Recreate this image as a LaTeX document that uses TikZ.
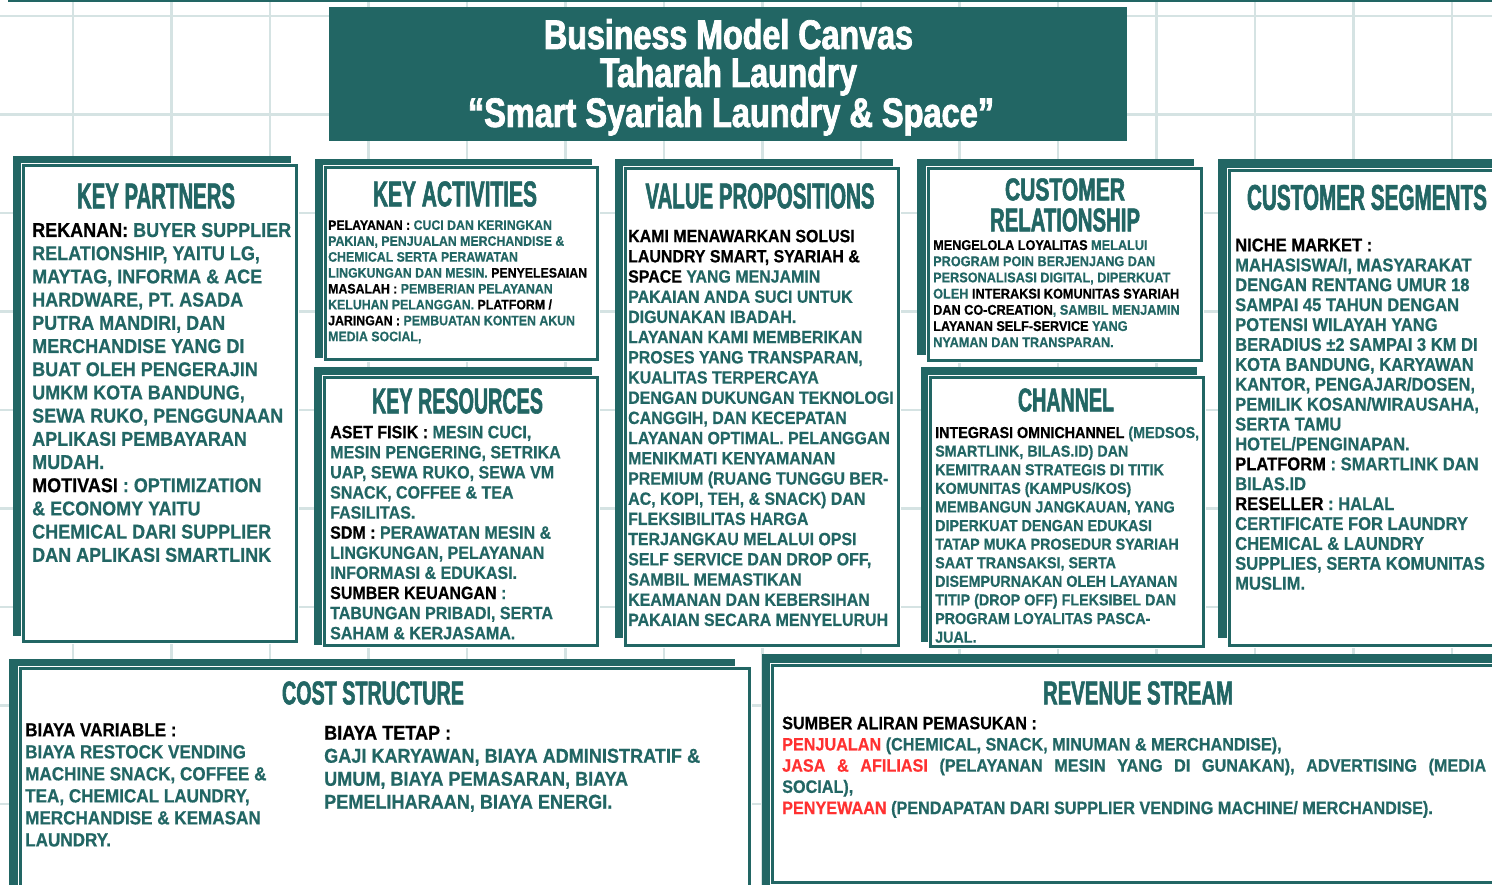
\documentclass[tikz,border=0pt]{standalone}
\usepackage{fontspec}
\usepackage{graphicx}
\newfontfamily\bodyfont{Liberation Sans}[FakeStretch=0.9, FakeBold=0.6]
\newfontfamily\headfont{Liberation Sans}[FakeStretch=0.6, FakeBold=1.6]
\definecolor{cteal}{HTML}{226664}
\definecolor{cred}{HTML}{FF3131}
\definecolor{gridc}{HTML}{D5E3E3}
\newcommand\B[1]{\textcolor{black}{#1}}
\newcommand\R[1]{\textcolor{cred}{#1}}
\newcommand\hd[3]{\resizebox{#1pt}{#2pt}{\headfont\bfseries #3}}
\newcommand\canvasbox[8]{%
  \fill[cteal] (#1,#2) rectangle (#3,#4);
  \draw[white, line width=5pt] (#5,#6) rectangle (#7,#8);
  \filldraw[fill=white, draw=cteal, line width=3pt] (#5,#6) rectangle (#7,#8);}
\tikzset{
  txt/.style={anchor=north west, inner sep=0pt, align=left, text=cteal},
  fs/.style 2 args={font={\bodyfont\bfseries\fontsize{#1}{#2}\selectfont}},
  hdnode/.style={inner sep=0pt, anchor=center, text=cteal},
  ttl/.style={inner sep=0pt, anchor=base, text=white}
}
\begin{document}
\begin{tikzpicture}[x=1pt,y=-1pt]
\useasboundingbox (0,0) rectangle (1492,885);
\fill[white] (0,0) rectangle (1492,885);
% grid
\foreach \k in {0,...,14} \draw[gridc, line width=2.6pt] ({73+98.5*\k},0) -- ({73+98.5*\k},885);
\foreach \k in {0,...,8} \draw[gridc, line width=2.6pt] (0,{16+98.5*\k}) -- (1492,{16+98.5*\k});
\fill[cteal] (8,0) rectangle (1492,2.5);
% title
\fill[cteal] (329,7) rectangle (1127,141);
\node[ttl] (t1) at (728.5,49) {\resizebox{369pt}{30pt}{\headfont\bfseries Business Model Canvas}};
\node[ttl] (t2) at (728.5,87) {\resizebox{257pt}{30pt}{\headfont\bfseries Taharah Laundry}};
\node[ttl] (t3) at (731,127) {\resizebox{526pt}{30pt}{\headfont\bfseries “Smart Syariah Laundry \& Space”}};
% boxes
\canvasbox{13}{156}{291}{636}{23.5}{165.5}{296.5}{641.5}
\canvasbox{315}{159}{592}{358}{325.5}{167.5}{597.5}{359.5}
\canvasbox{314}{367}{592}{645}{324.5}{377.5}{597.5}{645.5}
\canvasbox{615}{159}{893}{638}{625.5}{168.5}{898.5}{645.5}
\canvasbox{917}{159}{1194}{355}{928.5}{168.5}{1201.5}{360.5}
\canvasbox{921}{367}{1197}{642}{930.5}{377.5}{1203.5}{646.5}
\canvasbox{1218}{159}{1500}{638}{1229.5}{170.5}{1510}{645.5}
\canvasbox{9}{659}{735}{895}{20.5}{668.5}{749.5}{900}
\canvasbox{762}{654}{1500}{895}{772.5}{665.5}{1510}{882.5}
% headings
\node[hdnode] (hkp) at (156,196) {\hd{158}{25}{KEY PARTNERS}};
\node[hdnode] (hka) at (455,194) {\hd{164}{25}{KEY ACTIVITIES}};
\node[hdnode] (hkr) at (457.5,401) {\hd{171}{25}{KEY RESOURCES}};
\node[hdnode] (hvp) at (760,196) {\hd{229}{25}{VALUE PROPOSITIONS}};
\node[hdnode] (hcr1) at (1065,189.5) {\hd{120}{22}{CUSTOMER}};
\node[hdnode] (hcr2) at (1065,220) {\hd{150}{23}{RELATIONSHIP}};
\node[hdnode] (hch) at (1066,400) {\hd{96}{23}{CHANNEL}};
\node[hdnode] (hcs) at (1367,197.5) {\hd{240}{25}{CUSTOMER SEGMENTS}};
\node[hdnode] (hcost) at (373,693) {\hd{182}{23}{COST STRUCTURE}};
\node[hdnode] (hrev) at (1138,693) {\hd{190}{23}{REVENUE STREAM}};
% key partners
\node[txt, fs={20}{23.2}] (kptext) at (32,222.8) {%
\B{REKANAN:} BUYER SUPPLIER\\
RELATIONSHIP, YAITU LG,\\
MAYTAG, INFORMA \& ACE\\
HARDWARE, PT. ASADA\\
PUTRA MANDIRI, DAN\\
MERCHANDISE YANG DI\\
BUAT OLEH PENGERAJIN\\
UMKM KOTA BANDUNG,\\
SEWA RUKO, PENGGUNAAN\\
APLIKASI PEMBAYARAN\\
MUDAH.\\
\B{MOTIVASI} : OPTIMIZATION\\
\& ECONOMY YAITU\\
CHEMICAL DARI SUPPLIER\\
DAN APLIKASI SMARTLINK};
% key activities
\node[txt, fs={13.7}{15.9}] (katext) at (328,220.1) {%
\B{PELAYANAN :} CUCI DAN KERINGKAN\\
PAKIAN, PENJUALAN MERCHANDISE \&\\
CHEMICAL SERTA PERAWATAN\\
LINGKUNGAN DAN MESIN. \B{PENYELESAIAN}\\
\B{MASALAH :} PEMBERIAN PELAYANAN\\
KELUHAN PELANGGAN. \B{PLATFORM /}\\
\B{JARINGAN :} PEMBUATAN KONTEN AKUN\\
MEDIA SOCIAL,};
% key resources
\node[txt, fs={17.8}{20.1}] (krtext) at (330,425.6) {%
\B{ASET FISIK :} MESIN CUCI,\\
MESIN PENGERING, SETRIKA\\
UAP, SEWA RUKO, SEWA VM\\
SNACK, COFFEE \& TEA\\
FASILITAS.\\
\B{SDM :} PERAWATAN MESIN \&\\
LINGKUNGAN, PELAYANAN\\
INFORMASI \& EDUKASI.\\
\B{SUMBER KEUANGAN} :\\
TABUNGAN PRIBADI, SERTA\\
SAHAM \& KERJASAMA.};
% value propositions
\node[txt, fs={17.7}{20.2}] (vptext) at (628,229.6) {%
\B{KAMI MENAWARKAN SOLUSI}\\
\B{LAUNDRY SMART, SYARIAH \&}\\
\B{SPACE} YANG MENJAMIN\\
PAKAIAN ANDA SUCI UNTUK\\
DIGUNAKAN IBADAH.\\
LAYANAN KAMI MEMBERIKAN\\
PROSES YANG TRANSPARAN,\\
KUALITAS TERPERCAYA\\
DENGAN DUKUNGAN TEKNOLOGI\\
CANGGIH, DAN KECEPATAN\\
LAYANAN OPTIMAL. PELANGGAN\\
MENIKMATI KENYAMANAN\\
PREMIUM (RUANG TUNGGU BER-\\
AC, KOPI, TEH, \& SNACK) DAN\\
FLEKSIBILITAS HARGA\\
TERJANGKAU MELALUI OPSI\\
SELF SERVICE DAN DROP OFF,\\
SAMBIL MEMASTIKAN\\
KEAMANAN DAN KEBERSIHAN\\
PAKAIAN SECARA MENYELURUH};
% customer relationship
\node[txt, fs={14.1}{16.2}] (crtext) at (933,239.9) {%
\B{MENGELOLA LOYALITAS} MELALUI\\
PROGRAM POIN BERJENJANG DAN\\
PERSONALISASI DIGITAL, DIPERKUAT\\
OLEH \B{INTERAKSI KOMUNITAS SYARIAH}\\
\B{DAN CO-CREATION}, SAMBIL MENJAMIN\\
\B{LAYANAN SELF-SERVICE} YANG\\
NYAMAN DAN TRANSPARAN.};
% channel
\node[txt, fs={15.9}{18.6}] (chtext) at (935,426.3) {%
\B{INTEGRASI OMNICHANNEL} (MEDSOS,\\
SMARTLINK, BILAS.ID) DAN\\
KEMITRAAN STRATEGIS DI TITIK\\
KOMUNITAS (KAMPUS/KOS)\\
MEMBANGUN JANGKAUAN, YANG\\
DIPERKUAT DENGAN EDUKASI\\
TATAP MUKA PROSEDUR SYARIAH\\
SAAT TRANSAKSI, SERTA\\
DISEMPURNAKAN OLEH LAYANAN\\
TITIP (DROP OFF) FLEKSIBEL DAN\\
PROGRAM LOYALITAS PASCA-\\
JUAL.};
% customer segments
\node[txt, fs={18.4}{19.9}] (cstext) at (1235,238.3) {%
\B{NICHE MARKET :}\\
MAHASISWA/I, MASYARAKAT\\
DENGAN RENTANG UMUR 18\\
SAMPAI 45 TAHUN DENGAN\\
POTENSI WILAYAH YANG\\
BERADIUS ±2 SAMPAI 3 KM DI\\
KOTA BANDUNG, KARYAWAN\\
KANTOR, PENGAJAR/DOSEN,\\
PEMILIK KOSAN/WIRAUSAHA,\\
SERTA TAMU\\
HOTEL/PENGINAPAN.\\
\B{PLATFORM} : SMARTLINK DAN\\
BILAS.ID\\
\B{RESELLER} : HALAL\\
CERTIFICATE FOR LAUNDRY\\
CHEMICAL \& LAUNDRY\\
SUPPLIES, SERTA KOMUNITAS\\
MUSLIM.};
% cost structure
\node[txt, fs={19}{22}] (costvar) at (25,723.1) {%
\B{BIAYA VARIABLE :}\\
BIAYA RESTOCK VENDING\\
MACHINE SNACK, COFFEE \&\\
TEA, CHEMICAL LAUNDRY,\\
MERCHANDISE \& KEMASAN\\
LAUNDRY.};
\node[txt, fs={20.1}{23}] (costfix) at (324,725.7) {%
\B{BIAYA TETAP :}\\
GAJI KARYAWAN, BIAYA ADMINISTRATIF \&\\
UMUM, BIAYA PEMASARAN, BIAYA\\
PEMELIHARAAN, BIAYA ENERGI.};
% revenue stream
\node[txt, fs={18}{21.2}] (revtext) at (782,716.5) {%
\B{SUMBER ALIRAN PEMASUKAN :}\\
\R{PENJUALAN} (CHEMICAL, SNACK, MINUMAN \& MERCHANDISE),\\
\makebox[704pt][s]{\R{JASA \& AFILIASI} (PELAYANAN MESIN YANG DI GUNAKAN), ADVERTISING (MEDIA}\\
SOCIAL),\\
\R{PENYEWAAN} (PENDAPATAN DARI SUPPLIER VENDING MACHINE/ MERCHANDISE).};
\end{tikzpicture}
\end{document}
